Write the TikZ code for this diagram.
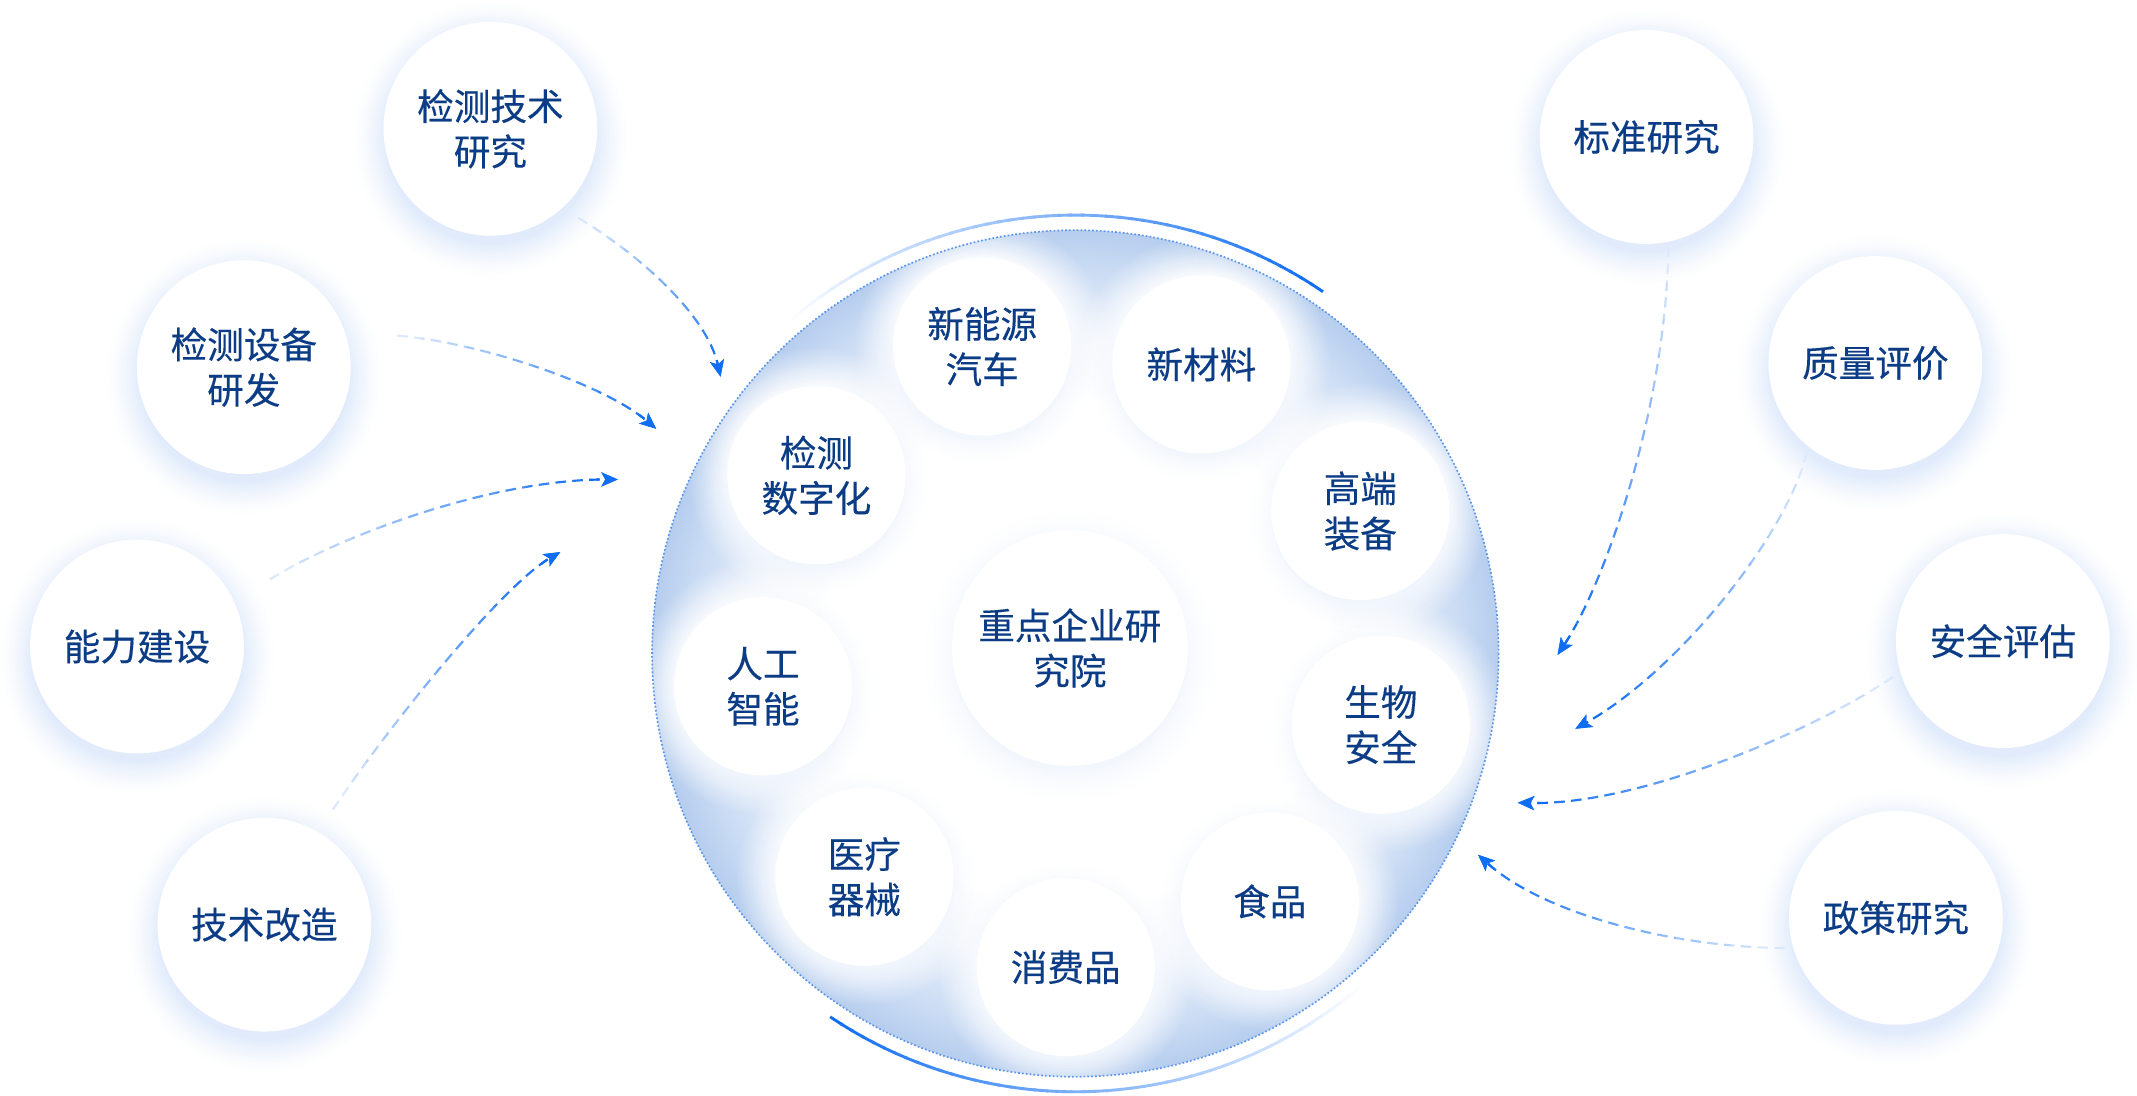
\documentclass[tikz,border=0pt]{standalone}
\usepackage{fontspec}
\newfontfamily\cjk{Noto Sans CJK SC}[FakeBold=0.3]
\usetikzlibrary{calc,arrows.meta,fadings}
\definecolor{txt}{HTML}{0B3C85}
\definecolor{adark}{HTML}{106EF2}
\definecolor{alight}{HTML}{DCE9FC}
\definecolor{glowc}{HTML}{DAE7FB}
\definecolor{discedge}{HTML}{B6CDEE}
\definecolor{disctwo}{HTML}{C8DAF3}
\definecolor{discmid}{HTML}{E2EBF9}
\definecolor{dotc}{HTML}{5A95EA}
\pgfdeclareradialshading{glowsh}{\pgfpointorigin}{color(0bp)=(white); color(19bp)=(white); color(21bp)=(black!45); color(23.5bp)=(black!85); color(25bp)=(black); color(50bp)=(black)}
\pgfdeclarefading{glowfade}{\pgfuseshading{glowsh}}
\pgfdeclareradialshading{halosh}{\pgfpointorigin}{color(0bp)=(white); color(17.2bp)=(white); color(19bp)=(black!30); color(22bp)=(black!70); color(25bp)=(black); color(50bp)=(black)}
\pgfdeclarefading{halofade}{\pgfuseshading{halosh}}
\pgfdeclareradialshading{discshade}{\pgfpointorigin}{color(0bp)=(white); color(15bp)=(white); color(19.5bp)=(discmid); color(23bp)=(disctwo); color(25bp)=(discedge); color(50bp)=(discedge)}
\tikzset{
  bub/.style={circle, fill=white, inner sep=0pt, align=center, text=txt,
    font=\cjk\fontsize{7.6pt}{9.4pt}\selectfont},
  outerbub/.style={bub, minimum size=1.56cm},
  innerbub/.style={bub, minimum size=1.30cm},
  corebub/.style={bub, minimum size=1.72cm},
  arrowline/.style={line width=0.45pt, dash pattern=on 2.2pt off 1.3pt,
    -{Stealth[length=3.4pt,width=2.9pt,inset=0.8pt]}},
}
\newcommand\gradarrow[3]{%
  \coordinate (gaR) at ($(#1)!-6!(#2)$);
  \foreach \k in {0,...,11}{%
    \pgfmathsetmacro\ta{\k==0 ? -0.6 : \k/12}%
    \pgfmathsetmacro\tb{\k==11 ? 1.8 : (\k+1)/12}%
    \pgfmathsetmacro\pc{\k*100/11}%
    \begin{scope}
      \coordinate (ga) at ($(#1)!\ta!(#2)$);
      \coordinate (gb) at ($(#1)!\tb!(#2)$);
      \clip ($(ga)!4cm!90:(gaR)$) -- ($(ga)!4cm!-90:(gaR)$) -- ($(gb)!4cm!-90:(gaR)$) -- ($(gb)!4cm!90:(gaR)$) -- cycle;
      \draw[arrowline, adark!\pc!alight] (#1) .. #3 .. (#2);
    \end{scope}
  }%
  \begin{scope}
    \clip (#2) circle (16);
    \draw[arrowline, adark] (#1) .. #3 .. (#2);
  \end{scope}
}
\begin{document}
\begin{tikzpicture}[x=0.01cm,y=-0.01cm]
\fill[white] (0,0) rectangle (1560,800);
\useasboundingbox (0,0) rectangle (1560,800);
% centres
\coordinate (disc) at (785,477);
\coordinate (pA) at (358,94);
\coordinate (pB) at (178,268);
\coordinate (pC) at (100,472);
\coordinate (pD) at (193,675);
\coordinate (pE) at (1202,100);
\coordinate (pF) at (1369,265);
\coordinate (pG) at (1462,468);
\coordinate (pH) at (1384,670);
\coordinate (q1) at (717,253);
\coordinate (q2) at (877,266);
\coordinate (q3) at (596,347);
\coordinate (q4) at (993,373);
\coordinate (q5) at (557,501);
\coordinate (q6) at (1008,529);
\coordinate (q7) at (631,640);
\coordinate (q8) at (927,658);
\coordinate (q9) at (778,706);
\coordinate (qc) at (781,473);
% outer glows
\foreach \p in {pA,pB,pC,pD,pE,pF,pG,pH}{
  \fill[glowc, opacity=0.8, path fading=glowfade, fit fading=true] ($(\p)+(0,7)$) circle (100);
}
% outer arcs
\foreach \i in {0,...,47}{
  \pgfmathsetmacro\aa{-132+\i*76/48}
  \pgfmathsetmacro\ab{\aa+76/48+0.4}
  \pgfmathsetmacro\pc{100*\i/47}
  \draw[line width=0.6pt, adark!\pc!white] (disc) ++(\aa:320) arc[start angle=\aa, end angle=\ab, radius=320];
}
\foreach \i in {0,...,47}{
  \pgfmathsetmacro\aa{124-\i*76/48}
  \pgfmathsetmacro\ab{\aa-76/48-0.4}
  \pgfmathsetmacro\pc{100-100*\i/47}
  \draw[line width=0.6pt, adark!\pc!white] (disc) ++(\aa:320) arc[start angle=\aa, end angle=\ab, radius=320];
}
% disc
\shade[shading=discshade] (disc) circle (309);
\begin{scope}
  \clip (disc) circle (309);
  \foreach \p in {q1,q2,q3,q4,q5,q6,q7,q8,q9}{
    \fill[white, path fading=halofade, fit fading=true] (\p) circle (94);
  }
  \fill[white, path fading=halofade, fit fading=true] (qc) circle (125);
  \foreach \p in {q1,q2,q3,q4,q5,q6,q7,q8,q9}{
    \fill[glowc, opacity=0.35, path fading=glowfade, fit fading=true] ($(\p)+(0,5)$) circle (80);
  }
  \fill[glowc, opacity=0.35, path fading=glowfade, fit fading=true] ($(qc)+(0,6)$) circle (106);
\end{scope}
\draw[dotc, line width=0.35pt, dash pattern=on 0.35pt off 0.45pt] (disc) circle (309);
% arrow end points
\coordinate (s1) at (422,159);  \coordinate (e1) at (526,275);
\coordinate (s2) at (290,245);  \coordinate (e2) at (479,313);
\coordinate (s3) at (197,423);  \coordinate (e3) at (451,350);
\coordinate (s4) at (243,591);  \coordinate (e4) at (409,403);
\coordinate (s5) at (1218,180); \coordinate (e5) at (1137,478);
\coordinate (s6) at (1319,330); \coordinate (e6) at (1150,532);
\coordinate (s7) at (1382,494); \coordinate (e7) at (1108,586);
\coordinate (s8) at (1303,692); \coordinate (e8) at (1079,624);
\gradarrow{s1}{e1}{controls (467,186) and (516,230)}
\gradarrow{s2}{e2}{controls (350,250) and (440,280)}
\gradarrow{s3}{e3}{controls (250,390) and (360,350)}
\gradarrow{s4}{e4}{controls (283,531) and (366,428)}
\gradarrow{s5}{e5}{controls (1216,300) and (1171,427)}
\gradarrow{s6}{e6}{controls (1305,390) and (1225,490)}
\gradarrow{s7}{e7}{controls (1330,530) and (1200,588)}
\gradarrow{s8}{e8}{controls (1230,692) and (1130,670)}
% outer nodes
\node[outerbub] (nA) at (pA) {检测技术\\研究};
\node[outerbub] (nB) at (pB) {检测设备\\研发};
\node[outerbub] (nC) at (pC) {能力建设};
\node[outerbub] (nD) at (pD) {技术改造};
\node[outerbub] (nE) at (pE) {标准研究};
\node[outerbub] (nF) at (pF) {质量评价};
\node[outerbub] (nG) at (pG) {安全评估};
\node[outerbub] (nH) at (pH) {政策研究};
% inner nodes
\node[innerbub] (m1) at (q1) {新能源\\汽车};
\node[innerbub] (m2) at (q2) {新材料};
\node[innerbub] (m3) at (q3) {检测\\数字化};
\node[innerbub] (m4) at (q4) {高端\\装备};
\node[innerbub] (m5) at (q5) {人工\\智能};
\node[innerbub] (m6) at (q6) {生物\\安全};
\node[innerbub] (m7) at (q7) {医疗\\器械};
\node[innerbub] (m8) at (q8) {食品};
\node[innerbub] (m9) at (q9) {消费品};
\node[corebub] (mc) at (qc) {重点企业研\\究院};
\end{tikzpicture}
\end{document}
